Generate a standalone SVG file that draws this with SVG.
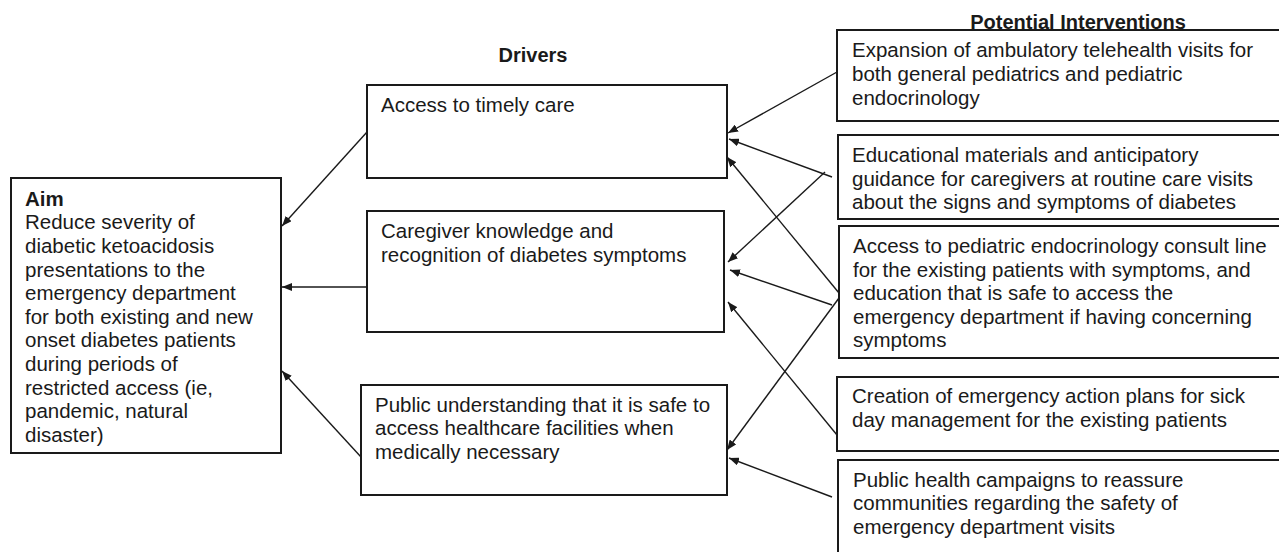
<svg xmlns="http://www.w3.org/2000/svg" width="1279" height="552" viewBox="0 0 1279 552">
  <defs>
    <style>
      .box { fill: #ffffff; stroke: #1a1a1a; stroke-width: 2; }
      .txt { font-family: "Liberation Sans", Arial, sans-serif; font-size: 20.5px; fill: #1a1a1a; }
      .hdr { font-family: "Liberation Sans", Arial, sans-serif; font-size: 20px; font-weight: bold; fill: #1a1a1a; text-anchor: middle; }
      .b { font-weight: bold; }
      .conn { stroke: #1a1a1a; stroke-width: 1.4; fill: none; marker-end: url(#arrow); }
    </style>
    <marker id="arrow" markerUnits="userSpaceOnUse" markerWidth="10" markerHeight="8" refX="10" refY="4" orient="auto">
      <path d="M0,0 L10,4 L0,8 z" fill="#1a1a1a"/>
    </marker>
  </defs>
  <rect width="1279" height="552" fill="#ffffff"/>

  <!-- column headings -->
  <g id="headers">
    <text class="hdr" x="533" y="62">Drivers</text>
    <text class="hdr" x="1078" y="29">Potential Interventions</text>
  </g>

  <!-- aim -->
  <g id="aim">
    <rect class="box" x="11" y="178" width="270" height="275"/>
    <text class="txt" x="25">
      <tspan class="b" x="25" y="206">Aim</tspan>
      <tspan x="25" y="229.3">Reduce severity of</tspan>
      <tspan x="25" y="252.9">diabetic ketoacidosis</tspan>
      <tspan x="25" y="276.5">presentations to the</tspan>
      <tspan x="25" y="300.1">emergency department</tspan>
      <tspan x="25" y="323.7">for both existing and new</tspan>
      <tspan x="25" y="347.3">onset diabetes patients</tspan>
      <tspan x="25" y="370.9">during periods of</tspan>
      <tspan x="25" y="394.5">restricted access (ie,</tspan>
      <tspan x="25" y="418.1">pandemic, natural</tspan>
      <tspan x="25" y="441.7">disaster)</tspan>
    </text>
  </g>

  <!-- drivers -->
  <g id="driver-access">
    <rect class="box" x="367" y="85" width="360" height="93"/>
    <text class="txt" x="381" y="111.7">Access to timely care</text>
  </g>
  <g id="driver-caregiver">
    <rect class="box" x="367" y="211" width="357" height="121"/>
    <text class="txt">
      <tspan x="381" y="238.3">Caregiver knowledge and</tspan>
      <tspan x="381" y="261.5">recognition of diabetes symptoms</tspan>
    </text>
  </g>
  <g id="driver-public">
    <rect class="box" x="361" y="385" width="366" height="110"/>
    <text class="txt">
      <tspan x="375" y="411.7">Public understanding that it is safe to</tspan>
      <tspan x="375" y="435.2">access healthcare facilities when</tspan>
      <tspan x="375" y="458.7">medically necessary</tspan>
    </text>
  </g>

  <!-- interventions -->
  <g id="int-telehealth">
    <rect class="box" x="837" y="30" width="460" height="91"/>
    <text class="txt">
      <tspan x="852" y="57.3">Expansion of ambulatory telehealth visits for</tspan>
      <tspan x="852" y="80.9">both general pediatrics and pediatric</tspan>
      <tspan x="852" y="104.5">endocrinology</tspan>
    </text>
  </g>
  <g id="int-education">
    <rect class="box" x="838" y="135" width="460" height="84"/>
    <text class="txt">
      <tspan x="852" y="162.3">Educational materials and anticipatory</tspan>
      <tspan x="852" y="185.8">guidance for caregivers at routine care visits</tspan>
      <tspan x="852" y="209.3">about the signs and symptoms of diabetes</tspan>
    </text>
  </g>
  <g id="int-consult">
    <rect class="box" x="839" y="226" width="460" height="132"/>
    <text class="txt">
      <tspan x="853" y="253.3">Access to pediatric endocrinology consult line</tspan>
      <tspan x="853" y="276.7">for the existing patients with symptoms, and</tspan>
      <tspan x="853" y="300.1">education that is safe to access the</tspan>
      <tspan x="853" y="323.5">emergency department if having concerning</tspan>
      <tspan x="853" y="346.9">symptoms</tspan>
    </text>
  </g>
  <g id="int-action-plans">
    <rect class="box" x="837" y="377" width="460" height="74"/>
    <text class="txt">
      <tspan x="852" y="403.3">Creation of emergency action plans for sick</tspan>
      <tspan x="852" y="426.7">day management for the existing patients</tspan>
    </text>
  </g>
  <g id="int-campaigns">
    <rect class="box" x="838" y="460" width="460" height="110"/>
    <text class="txt">
      <tspan x="853" y="486.7">Public health campaigns to reassure</tspan>
      <tspan x="853" y="510.1">communities regarding the safety of</tspan>
      <tspan x="853" y="533.5">emergency department visits</tspan>
    </text>
  </g>

  <!-- connectors -->
  <g id="connectors">
    <line class="conn" x1="367" y1="132" x2="282" y2="226"/>
    <line class="conn" x1="367" y1="287" x2="282" y2="287"/>
    <line class="conn" x1="361" y1="457" x2="282" y2="371"/>

    <line class="conn" x1="837" y1="72" x2="728" y2="133"/>
    <line class="conn" x1="832" y1="177" x2="729" y2="139"/>
    <line class="conn" x1="839" y1="293" x2="727" y2="157"/>
    <line class="conn" x1="825" y1="172" x2="728" y2="262"/>
    <line class="conn" x1="832" y1="305" x2="730" y2="270"/>
    <line class="conn" x1="837" y1="435" x2="728" y2="302"/>
    <line class="conn" x1="839" y1="298" x2="727" y2="450"/>
    <line class="conn" x1="832" y1="497" x2="729" y2="458"/>
  </g>
</svg>
